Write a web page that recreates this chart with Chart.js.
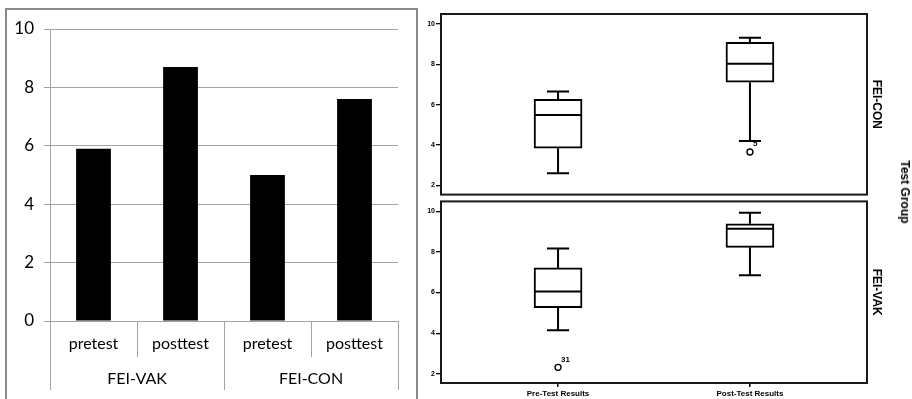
<!DOCTYPE html>
<html>
<head>
<meta charset="utf-8">
<script src="https://cdn.jsdelivr.net/npm/chart.js@4.4.1/dist/chart.umd.min.js"></script>
<style>
  html, body { margin: 0; padding: 0; background: #fff; }
  body { width: 912px; height: 399px; position: relative; overflow: hidden; }
  #meansFrame { position: absolute; left: 5px; top: 8px; width: 413px; height: 400px;
                border: 2px solid #8a8a8a; box-sizing: border-box; }
  #meansChart { position: absolute; left: 0; top: 0; }
  #conChart { position: absolute; left: 420px; top: 0; }
  #vakChart { position: absolute; left: 420px; top: 196px; }
  #facetTitle { position: absolute; left: 905px; top: 192px; white-space: nowrap;
                transform: translate(-50%, -50%) rotate(90deg);
                font: bold 12px "Liberation Sans", Arial, sans-serif; color: #000; }
</style>
</head>
<body>
<div id="meansFrame"></div>
<canvas id="meansChart" width="420" height="399"></canvas>
<canvas id="conChart" width="492" height="200"></canvas>
<canvas id="vakChart" width="492" height="203"></canvas>
<div id="facetTitle">Test Group</div>

<script>
// ---- mean scores per group and phase ----
const phases = ['pretest', 'posttest', 'pretest', 'posttest'];
const groups = ['FEI-VAK', 'FEI-CON'];
const meanScores = [5.9, 8.7, 5.0, 7.6];

// ---- score distributions (box plots) ----
const testLabels = ['Pre-Test Results', 'Post-Test Results'];

// FEI-CON
const conMin    = [2.6, 4.2];
const conQ1     = [3.84, 7.11];
const conMedian = [5.49, 8.02];
const conQ3     = [6.26, 9.08];
const conMax    = [6.65, 9.31];
const conOutlierAt  = [1];
const conOutlierVal = [3.66];
const conOutlierId  = ['5'];

// FEI-VAK
const vakMin    = [4.15, 6.85];
const vakQ1     = [5.26, 8.22];
const vakMedian = [6.05, 9.14];
const vakQ3     = [7.21, 9.38];
const vakMax    = [8.16, 9.92];
const vakOutlierAt  = [0];
const vakOutlierVal = [2.32];
const vakOutlierId  = ['31'];

const gridGrey = '#a3a3a3';
const latoFont = (size) => ({ family: 'Lato, "Open Sans", sans-serif', size: size });

// ---------- left: bar chart of means ----------
new Chart(document.getElementById('meansChart'), {
  type: 'bar',
  data: {
    labels: phases,
    datasets: [{
      data: meanScores,
      backgroundColor: '#000',
      borderWidth: 0,
      barPercentage: 0.4,
      categoryPercentage: 1
    }]
  },
  options: {
    responsive: false,
    animation: false,
    events: [],
    layout: { padding: { top: 29, right: 22, bottom: 9, left: 0 } },
    plugins: { legend: { display: false }, tooltip: { enabled: false } },
    scales: {
      y: {
        min: 0, max: 10,
        ticks: { stepSize: 2, font: latoFont(17), color: '#000', padding: 10 },
        grid: { color: gridGrey, tickLength: 6, lineWidth: 1 },
        border: { color: gridGrey, width: 1 },
        afterFit(s) { s.width = 50; }
      },
      x: {
        weight: 0,
        grid: { offset: true, drawOnChartArea: false, tickLength: 36, color: gridGrey },
        border: { color: gridGrey, width: 1 },
        ticks: { font: latoFont(16), color: '#000', padding: -22.6, autoSkip: false, maxRotation: 0 },
        afterFit(s) { s.height = 36; }
      },
      x2: {
        type: 'category',
        labels: groups,
        position: 'bottom',
        weight: 1,
        offset: true,
        grid: { offset: true, drawOnChartArea: false, tickLength: 33, color: gridGrey },
        border: { display: false },
        ticks: { font: latoFont(16), color: '#000', padding: -20.6, autoSkip: false, maxRotation: 0 },
        afterFit(s) { s.height = 33; }
      }
    }
  }
});

// ---------- right: box plots per test group ----------
function boxWhiskerPlugin(stats) {
  return {
    id: 'boxWhiskers',
    afterDatasetsDraw(chart) {
      const { ctx } = chart;
      const y = chart.scales.y;
      const boxes = chart.getDatasetMeta(0).data;
      ctx.save();
      ctx.strokeStyle = '#000';
      ctx.lineWidth = 2;
      boxes.forEach((bar, i) => {
        const half = bar.width / 2;
        const cap = bar.width * 0.23;
        const yMin = y.getPixelForValue(stats.min[i]);
        const yQ1 = y.getPixelForValue(stats.q1[i]);
        const yMed = y.getPixelForValue(stats.median[i]);
        const yQ3 = y.getPixelForValue(stats.q3[i]);
        const yMax = y.getPixelForValue(stats.max[i]);
        ctx.beginPath();
        ctx.moveTo(bar.x, yQ3); ctx.lineTo(bar.x, yMax);
        ctx.moveTo(bar.x - cap, yMax); ctx.lineTo(bar.x + cap, yMax);
        ctx.moveTo(bar.x, yQ1); ctx.lineTo(bar.x, yMin);
        ctx.moveTo(bar.x - cap, yMin); ctx.lineTo(bar.x + cap, yMin);
        ctx.moveTo(bar.x - half, yMed); ctx.lineTo(bar.x + half, yMed);
        ctx.stroke();
      });
      const pts = chart.getDatasetMeta(1).data;
      ctx.fillStyle = '#000';
      ctx.font = 'bold 8px "Liberation Sans", Arial, sans-serif';
      ctx.textAlign = 'left';
      ctx.textBaseline = 'middle';
      pts.forEach((p, k) => ctx.fillText(stats.ids[k], p.x + 3, p.y - 8));
      ctx.restore();
    }
  };
}

const panelFrame = {
  id: 'panelFrame',
  afterDraw(chart) {
    const { ctx, chartArea: a } = chart;
    ctx.save();
    ctx.strokeStyle = '#1a1a1a';
    ctx.lineWidth = 2;
    ctx.strokeRect(a.left, a.top, a.right - a.left, a.bottom - a.top);
    ctx.restore();
  }
};

function makePanel(canvasId, stats, groupName, showCategories, padTop, padBottom) {
  const arial = (size) => ({ family: '"Liberation Sans", Arial, sans-serif', size: size, weight: 'bold' });
  return new Chart(document.getElementById(canvasId), {
    type: 'bar',
    data: {
      datasets: [{
        data: testLabels.map((_, i) => ({ x: i, y: [stats.q1[i], stats.q3[i]] })),
        backgroundColor: '#fff',
        borderColor: '#000',
        borderWidth: 2,
        borderSkipped: false,
        barThickness: 48
      }, {
        type: 'scatter',
        data: stats.outAt.map((p, k) => ({ x: p, y: stats.outVal[k] })),
        pointRadius: 3,
        pointBorderWidth: 1.4,
        pointBackgroundColor: '#fff',
        pointBorderColor: '#000'
      }]
    },
    options: {
      responsive: false,
      animation: false,
      events: [],
      layout: { padding: { top: padTop, right: 28, bottom: padBottom, left: 0 } },
      plugins: { legend: { display: false }, tooltip: { enabled: false } },
      scales: {
        x: {
          type: 'linear',
          offset: false,
          min: -0.61, max: 1.61,
          afterBuildTicks(s) { s.ticks = testLabels.map((_, i) => ({ value: i })); },
          ticks: {
            display: showCategories,
            callback: (v) => testLabels[v] ?? '',
            font: arial(8), color: '#000', padding: 1.5, autoSkip: false, maxRotation: 0
          },
          grid: { display: showCategories, offset: false, drawOnChartArea: false, tickLength: 4, color: '#000', lineWidth: 1.5 },
          border: { display: false },
          afterFit(s) { s.height = showCategories ? 16 : 0; }
        },
        y: {
          min: 1.55, max: 10.48,
          ticks: { stepSize: 2, includeBounds: false, font: arial(7), color: '#000', padding: 1 },
          grid: { drawOnChartArea: false, tickLength: 5, color: '#000', lineWidth: 1.3 },
          border: { display: false },
          afterFit(s) { s.width = 21; }
        },
        y2: {
          type: 'linear',
          position: 'right',
          display: true,
          grid: { display: false },
          ticks: { display: false },
          border: { display: false },
          title: { display: true, text: groupName, font: arial(12), color: '#000', padding: 0 },
          afterFit(s) { s.width = 17; }
        }
      }
    },
    plugins: [boxWhiskerPlugin(stats), panelFrame]
  });
}

makePanel('conChart', {
  min: conMin, q1: conQ1, median: conMedian, q3: conQ3, max: conMax,
  outAt: conOutlierAt, outVal: conOutlierVal, ids: conOutlierId
}, 'FEI-CON', false, 14, 4);

makePanel('vakChart', {
  min: vakMin, q1: vakQ1, median: vakMedian, q3: vakQ3, max: vakMax,
  outAt: vakOutlierAt, outVal: vakOutlierVal, ids: vakOutlierId
}, 'FEI-VAK', true, 5, 0);
</script>
</body>
</html>
